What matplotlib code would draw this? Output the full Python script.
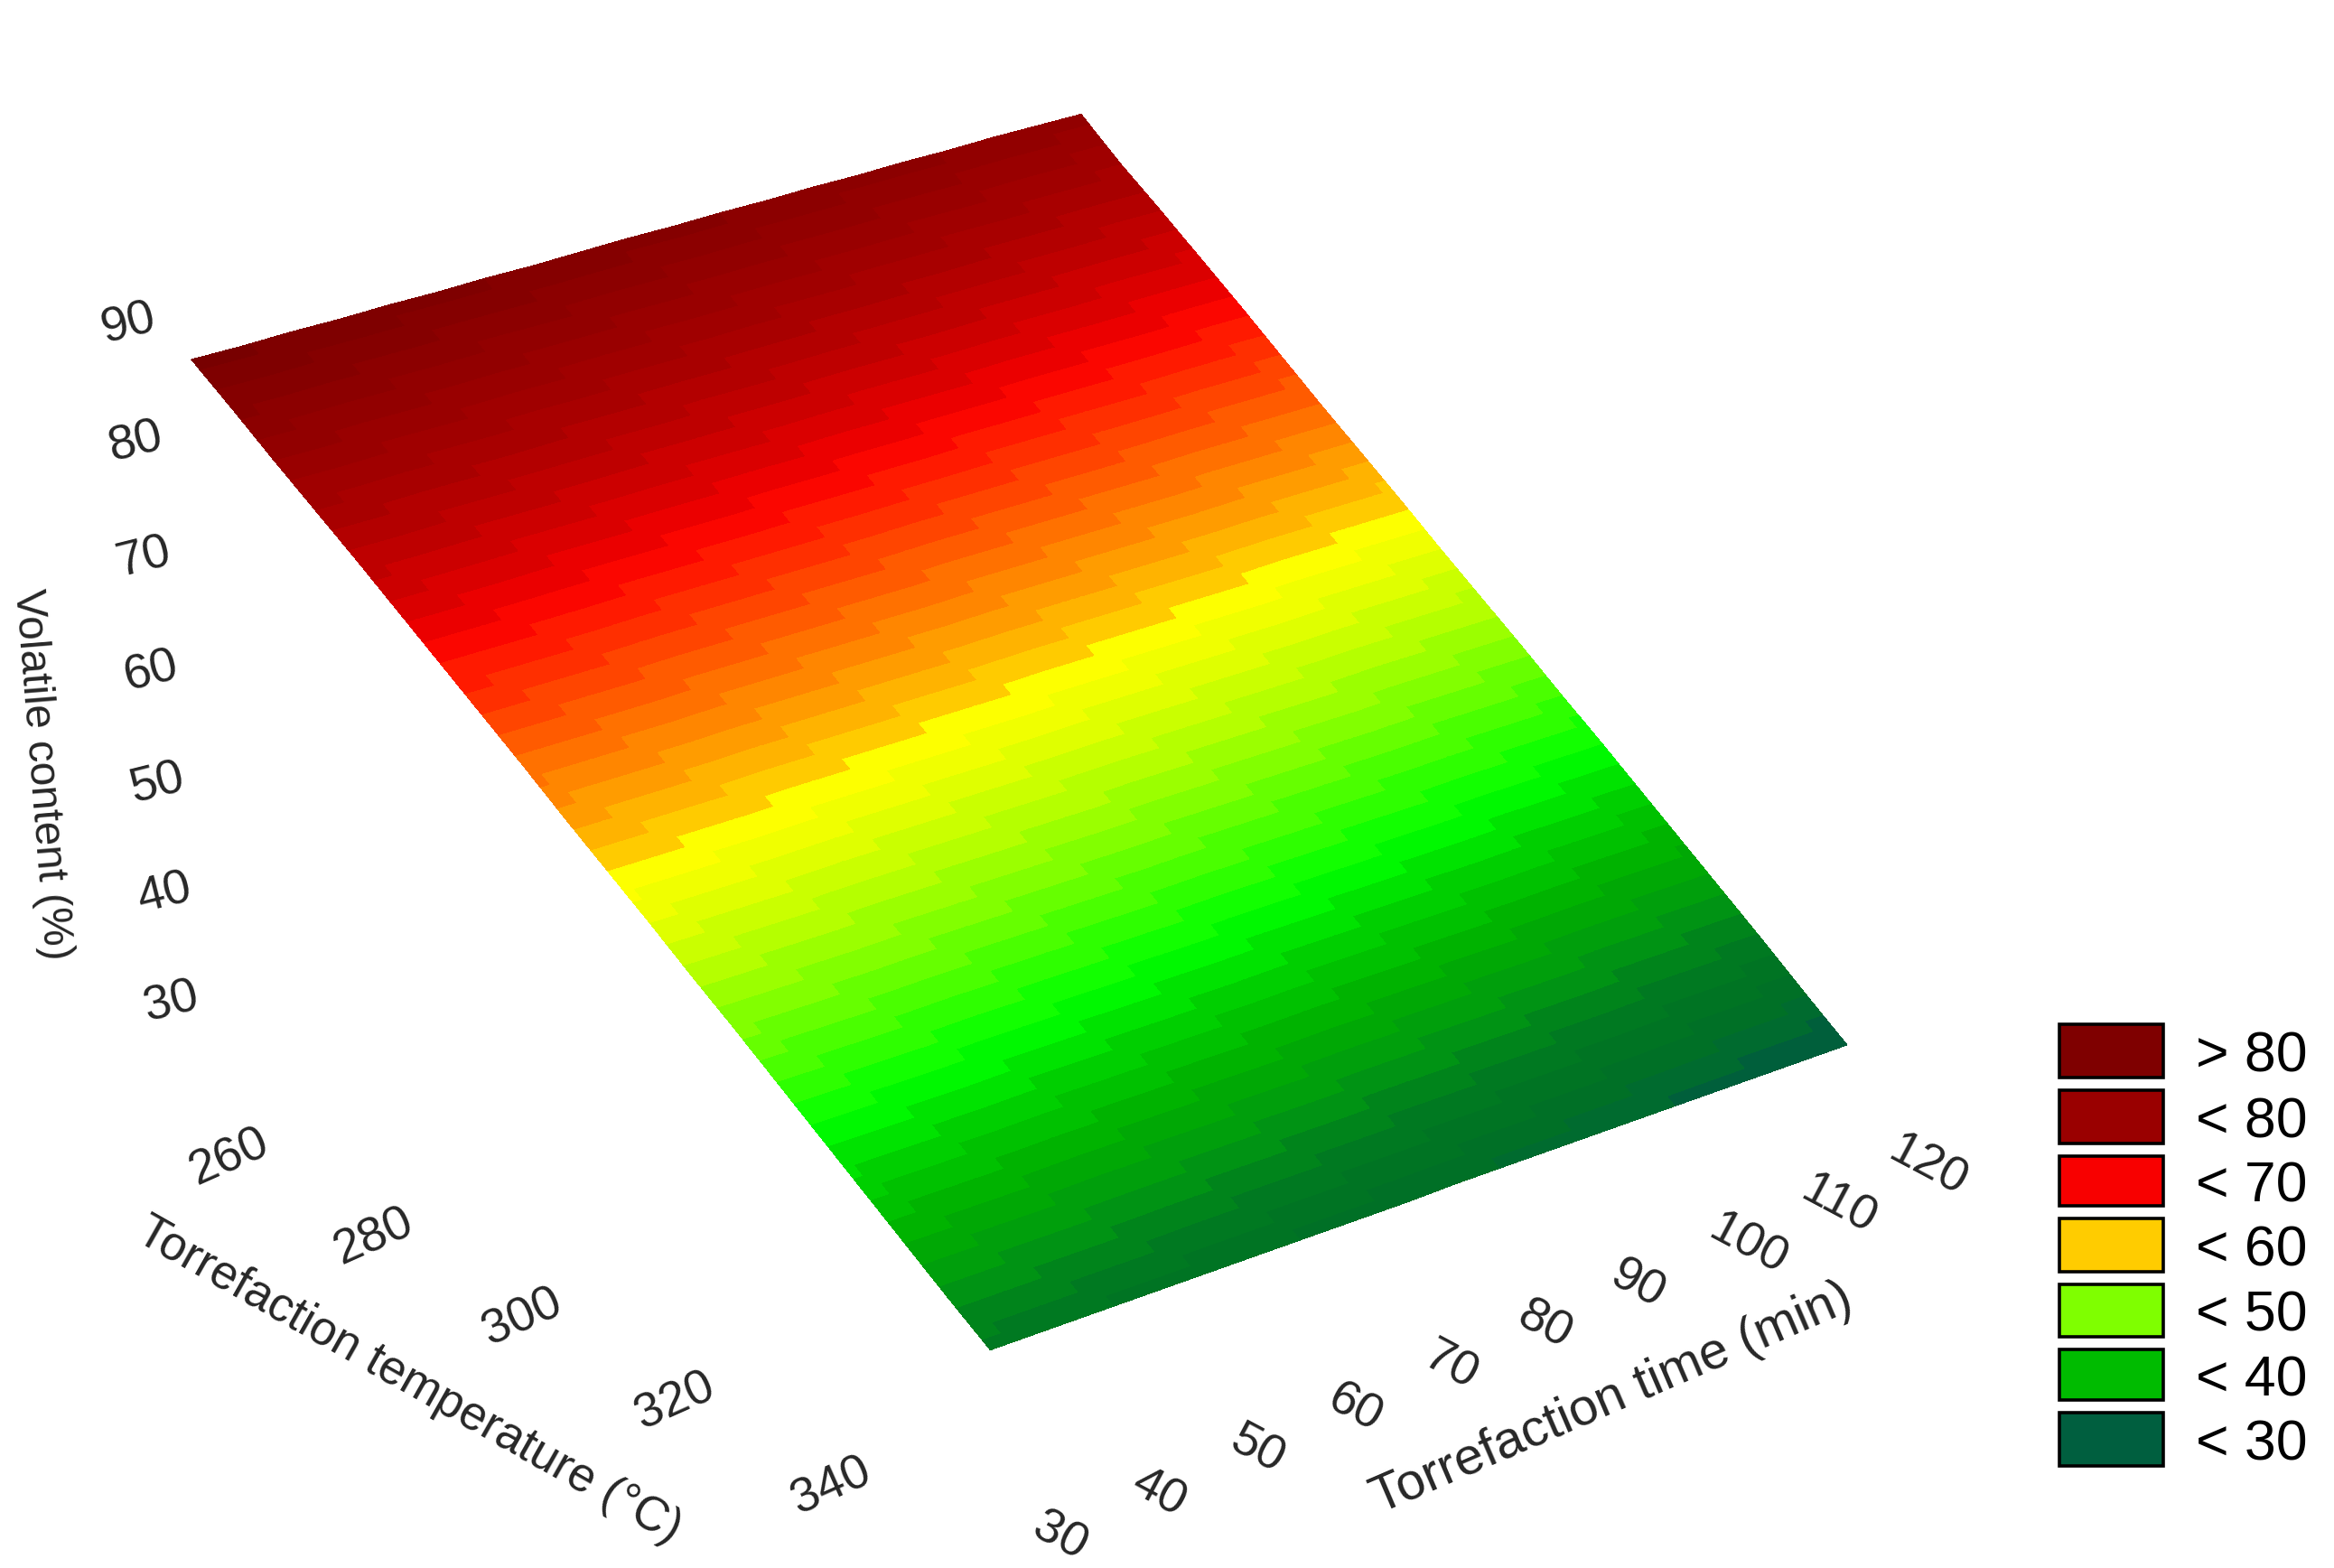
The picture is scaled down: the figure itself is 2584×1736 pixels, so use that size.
import numpy as np
import matplotlib
matplotlib.use('Agg')
import matplotlib.pyplot as plt
from matplotlib.colors import LinearSegmentedColormap, Normalize
from matplotlib.patches import Rectangle
from mpl_toolkits.mplot3d import Axes3D  # noqa: F401

plt.rcParams['font.family'] = ['Liberation Sans', 'DejaVu Sans']

W, H = 2584, 1736

# ---------------- data ----------------
temp_ticks = [260, 280, 300, 320, 340]
time_ticks = [40, 50, 60, 70, 80, 90, 100, 110, 120]
vol_ticks = [30, 40, 50, 60, 70, 80, 90]
temp_range = (250, 350)
time_range = (30, 120)
vol_range = (20, 90)

xlabel = 'Torrefaction temperature (°C)'
ylabel = 'Torrefaction time (min)'
zlabel = 'Volatile content (%)'

# fitted surface heights: rows = temperature nodes (250 -> 350), columns = time nodes (30 -> 120)
surface = [
 [85.4,85.1,84.9,84.6,84.4,84.1,83.9,83.6,83.4,83.2,82.9,82.7,82.4,82.2,81.9,81.7,81.4,81.2,80.9,80.6],
 [82.8,82.5,82.3,82.0,81.7,81.5,81.2,80.9,80.7,80.4,80.1,79.9,79.6,79.3,79.1,78.8,78.5,78.3,78.0,77.7],
 [80.1,79.8,79.6,79.3,79.0,78.8,78.5,78.3,78.0,77.7,77.5,77.2,76.9,76.7,76.4,76.2,75.9,75.6,75.4,75.1],
 [77.5,77.2,77.0,76.7,76.4,76.2,75.9,75.6,75.4,75.1,74.8,74.6,74.3,74.0,73.8,73.5,73.2,73.0,72.7,72.4],
 [74.9,74.6,74.4,74.1,73.8,73.5,73.3,73.0,72.7,72.4,72.2,71.9,71.6,71.3,71.1,70.8,70.5,70.2,70.0,69.7],
 [72.2,71.9,71.6,71.4,71.1,70.8,70.5,70.2,70.0,69.7,69.4,69.1,68.9,68.6,68.3,68.0,67.7,67.5,67.2,66.9],
 [69.5,69.2,68.9,68.6,68.4,68.1,67.8,67.5,67.2,66.9,66.7,66.4,66.1,65.8,65.5,65.2,65.0,64.7,64.4,64.1],
 [66.8,66.5,66.2,65.9,65.7,65.4,65.1,64.8,64.5,64.2,64.0,63.7,63.4,63.1,62.8,62.5,62.3,62.0,61.7,61.4],
 [64.1,63.8,63.5,63.2,63.0,62.7,62.4,62.1,61.8,61.5,61.3,61.0,60.7,60.4,60.1,59.8,59.6,59.3,59.0,58.7],
 [61.3,61.0,60.7,60.4,60.2,59.9,59.6,59.3,59.0,58.7,58.5,58.2,57.9,57.6,57.3,57.0,56.8,56.5,56.2,55.9],
 [58.6,58.3,58.0,57.7,57.5,57.2,56.9,56.6,56.3,56.0,55.8,55.5,55.2,54.9,54.6,54.3,54.1,53.8,53.5,53.2],
 [55.9,55.6,55.3,55.0,54.8,54.5,54.2,53.9,53.6,53.3,53.1,52.8,52.5,52.2,51.9,51.6,51.4,51.1,50.8,50.5],
 [53.1,52.8,52.5,52.2,52.0,51.7,51.4,51.1,50.8,50.5,50.3,50.0,49.7,49.4,49.1,48.8,48.6,48.3,48.0,47.7],
 [50.4,50.1,49.8,49.5,49.3,49.0,48.7,48.4,48.1,47.8,47.6,47.3,47.0,46.7,46.4,46.1,45.9,45.6,45.3,45.0],
 [47.6,47.3,47.0,46.7,46.5,46.2,45.9,45.6,45.3,45.0,44.8,44.5,44.2,43.9,43.6,43.3,43.1,42.8,42.5,42.2],
 [44.8,44.5,44.2,43.9,43.7,43.4,43.1,42.8,42.5,42.2,42.0,41.7,41.4,41.1,40.8,40.5,40.3,40.0,39.7,39.4],
 [42.0,41.7,41.4,41.1,40.9,40.6,40.3,40.0,39.7,39.4,39.2,38.9,38.6,38.3,38.0,37.7,37.5,37.2,36.9,36.6],
 [39.2,38.9,38.6,38.3,38.1,37.8,37.5,37.2,36.9,36.6,36.4,36.1,35.8,35.5,35.2,34.9,34.7,34.4,34.1,33.8],
 [36.4,36.1,35.8,35.5,35.2,35.0,34.7,34.4,34.1,33.8,33.5,33.2,32.9,32.6,32.3,32.0,31.8,31.5,31.2,30.9],
 [33.7,33.4,33.1,32.8,32.5,32.2,31.9,31.6,31.3,31.0,30.8,30.5,30.2,29.9,29.6,29.3,29.0,28.7,28.4,28.1],
]

# measured points: (temperature, time, volatile content, surface value below/above)
pt_temp = [250, 300, 300, 300, 350, 350, 350]
pt_time = [30, 30, 60, 120, 120, 60, 30]
pt_vol = [80.4, 70.4, 68.5, 65.6, 23.5, 24.5, 30.1]
pt_fit = [85.2, 59.3, 57.7, 54.6, 28.1, 31.8, 33.7]

legend_labels = ['> 80', '< 80', '< 70', '< 60', '< 50', '< 40', '< 30']
legend_colors = ['#7f0000', '#9a0000', '#f80000', '#ffcc00', '#7fff00', '#00bb00', '#005f3f']

# colour scale of the surface: volatile content -> colour
scale_vals = [26, 28, 29.5, 31, 33.7, 36.4, 39.2, 42, 44.8, 47.6, 50.4, 53.1, 55.9, 58, 59, 61.3, 64,
              66.7, 69.4, 70.5, 72, 74.8, 77.4, 80, 83, 86]
scale_cols = ['#005a40', '#005a40', '#006a30', '#007025', '#007a20', '#009a10', '#00b000', '#00d000',
              '#00ff00', '#40ff00', '#80ff00', '#b8ff00', '#e8ff00', '#ffff00', '#ffcc00', '#ffa000',
              '#ff7000', '#ff4000', '#ff1000', '#f80000', '#e00000', '#c00000', '#a80000', '#980000',
              '#880000', '#780000']

# camera of the chart (homography of centred axis units -> pixels / 1000)
CAM = np.array([[0.39444, 0.51728, -0.03473, 1.14878],
                [0.18013, -0.15995, -0.45928, 0.80770],
                [-0.03316, 0.03043, -0.03050, 1.0]])
# ---------------- end data ----------------

GRID = '#c4c4c4'
INK = '#262626'
AXC = '#000000'
NORMAL = np.array([[1/50, 0, 0, -6], [0, 1/45, 0, -75/45], [0, 0, 1/35, -55/35], [0, 0, 0, 1.0]])


def to_px(T, t, z):
    h = CAM @ NORMAL @ np.array([T, t, z, 1.0])
    return h[0] / h[2] * 1000, h[1] / h[2] * 1000


fig = plt.figure(figsize=(W / 100, H / 100), dpi=100, facecolor='white')
ax = fig.add_axes([0, -(W - H) / 2 / H, 1, W / H], projection='3d', computed_zorder=False)
ax.set_axis_off()
ax.patch.set_visible(False)

x0, x1 = ax.viewLim.intervalx
y0, y1 = ax.viewLim.intervaly
off = (W - H) / 2
Q = np.array([[1000 / W * (x1 - x0), 0, x0],
              [0, -1000 / W * (y1 - y0), y0 + (1 - off / W) * (y1 - y0)],
              [0, 0, 1.0]])
C2 = Q @ CAM
M = np.vstack([C2[0], C2[1], [0, 0, 0, 1.0], C2[2]]) @ NORMAL
ax.get_proj = lambda: M

Tmin, Tmax = temp_range
tmin, tmax = time_range
zmin, zmax = vol_range


def dotted(p, q):
    ax.plot([p[0], q[0]], [p[1], q[1]], [p[2], q[2]], color=GRID, lw=2.2,
            ls=(0, (1, 2.6)), dash_capstyle='butt', zorder=1, clip_on=False)


def solid(p, q, lw=2.3):
    ax.plot([p[0], q[0]], [p[1], q[1]], [p[2], q[2]], color=AXC, lw=lw,
            solid_capstyle='projecting', zorder=4, clip_on=False, antialiased=False)


# walls and floor
for z in [zmin] + vol_ticks:
    dotted((Tmin, tmin, z), (Tmin, tmax, z))
    dotted((Tmin, tmax, z), (Tmax, tmax, z))
for t in time_ticks:
    dotted((Tmin, t, zmin), (Tmin, t, zmax))
    dotted((Tmin, t, zmin), (Tmax, t, zmin))
for T in [Tmin] + temp_ticks + [Tmax]:
    dotted((T, tmax, zmin), (T, tmax, zmax))
    dotted((T, tmin, zmin), (T, tmax, zmin))

# surface
Z = np.array(surface)
nT, nt = Z.shape
Tn = np.linspace(Tmin, Tmax, nT)
tn = np.linspace(tmin, tmax, nt)
K = 5
Tf = np.linspace(Tmin, Tmax, (nT - 1) * K + 1)
tf = np.linspace(tmin, tmax, (nt - 1) * K + 1)
Zt = np.array([np.interp(tf, tn, row) for row in Z])
Zf = np.array([np.interp(Tf, Tn, col) for col in Zt.T]).T
Xf, Yf = np.meshgrid(Tf, tf, indexing='ij')
lo, hi = scale_vals[0], scale_vals[-1]
cmap = LinearSegmentedColormap.from_list(
    'vol', [((v - lo) / (hi - lo), c) for v, c in zip(scale_vals, scale_cols)], N=50)
Zc = 0.25 * (Zf[:-1, :-1] + Zf[1:, :-1] + Zf[:-1, 1:] + Zf[1:, 1:])
face = cmap(Normalize(lo, hi)(Zc))
surf = ax.plot_surface(Xf, Yf, Zf, rstride=1, cstride=1, facecolors=face, shade=False,
                       linewidth=0, antialiased=False, zorder=2)
surf.set_clip_on(False)
for i in range(nT):
    ax.plot(np.full(nt, Tn[i]), tn, Z[i], color='black', lw=2.4, zorder=3, clip_on=False,
            antialiased=False)
for j in range(nt):
    ax.plot(Tn, np.full(nT, tn[j]), Z[:, j], color='black', lw=2.2, zorder=3, clip_on=False,
            antialiased=False)

# axes lines and ticks
solid((Tmin, tmin, zmin), (Tmin, tmin, zmax), 2.5)
solid((Tmin, tmin, zmin), (Tmax, tmin, zmin), 2.0)
solid((Tmax, tmin, zmin), (Tmax, tmax, zmin), 2.0)
for z in [zmin] + vol_ticks:
    solid((Tmin, tmin, z), (Tmin, tmin + 1.6, z), 1.6)
for T in temp_ticks:
    solid((T, tmin - 0.2, zmin), (T, tmin + 1.4, zmin), 1.6)
for t in time_ticks:
    solid((Tmax + 0.2, t, zmin), (Tmax - 1.8, t, zmin), 1.6)

# stems and markers
for T, t, v, f in zip(pt_temp, pt_time, pt_vol, pt_fit):
    ax.plot([T, T], [t, t], [v, f], color='#0000ff', lw=2.2, ls=(0, (1, 1.9)),
            dash_capstyle='butt', zorder=5, clip_on=False)
ax.plot(pt_temp, pt_time, pt_vol, ls='none', marker='o', ms=21, mfc='none', mec='#0000ff', mew=2.2,
        zorder=6, clip_on=False)

# overlay in pixel coordinates for texts and legend
ov = fig.add_axes([0, 0, 1, 1])
ov.set_xlim(0, W)
ov.set_ylim(H, 0)
ov.axis('off')
ov.patch.set_visible(False)
tick_fs = 39
for z in vol_ticks:
    px, py = to_px(Tmin, tmin, z)
    ov.text(px - 66, py + 21, str(z), rotation=14, fontsize=tick_fs, color=INK, ha='center', va='center',
            rotation_mode='anchor')
for T in temp_ticks:
    px, py = to_px(T, tmin, zmin)
    ov.text(px - 88, py + 32, str(T), rotation=24, fontsize=tick_fs, color=INK, ha='center', va='center',
            rotation_mode='anchor')
for t in [tmin] + time_ticks:
    px, py = to_px(Tmax, t, zmin)
    dx = 96 if t >= 100 else 76
    ov.text(px + dx, py + 39, str(t), rotation=-28, fontsize=tick_fs, color=INK, ha='center', va='center',
            rotation_mode='anchor')
ov.text(46, 857, zlabel, rotation=-85.4, fontsize=34.4, color=INK, ha='center', va='center',
        rotation_mode='anchor')
ov.text(453, 1529, xlabel, rotation=-29.5, fontsize=38, color=INK, ha='center', va='center',
        rotation_mode='anchor')
ov.text(1785, 1549, ylabel, rotation=23.3, fontsize=41.5, color=INK, ha='center', va='center',
        rotation_mode='anchor')

leg_top = [1134, 1207, 1280, 1349, 1422, 1494, 1564]
leg_bot = [1193, 1266, 1335, 1408, 1480, 1550, 1623]
for lab, col, a, b in zip(legend_labels, legend_colors, leg_top, leg_bot):
    ov.add_patch(Rectangle((2280, a), 115, b - a, facecolor=col, edgecolor='black', lw=2.6))
    ov.text(2431, (a + b) / 2, lab, fontsize=45, color='black', ha='left', va='center_baseline')

fig.savefig('out.png', dpi=100, facecolor='white')
